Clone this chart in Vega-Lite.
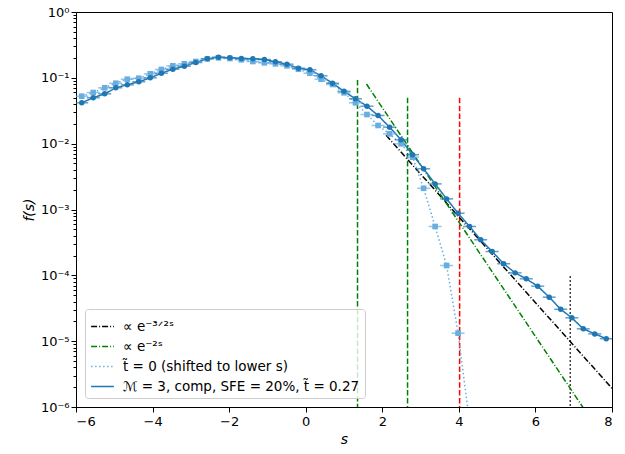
{
  "$schema": "https://vega.github.io/schema/vega-lite/v6.json",
  "autosize": {"type": "none"},
  "padding": {"left": 76, "top": 12, "right": 13, "bottom": 47},
  "width": 536,
  "height": 395,
  "config": {
    "font": "DejaVu Sans",
    "view": {"stroke": "black", "strokeWidth": 1},
    "axis": {"grid": false, "domainColor": "black", "tickColor": "black", "labelColor": "black", "titleColor": "black", "labelFontSize": 13, "titleFontSize": 14, "titleFontWeight": "normal", "tickWidth": 1},
    "legend": {"orient": "bottom-left", "offset": 9, "padding": 5, "strokeColor": "#cccccc", "fillColor": "rgba(255,255,255,0.8)", "cornerRadius": 3, "labelFontSize": 13.5, "labelLimit": 400, "symbolType": "stroke", "symbolSize": 520, "symbolStrokeWidth": 1.5, "rowPadding": 1, "labelColor": "black", "labelOffset": 8}
  },
  "datasets": {
    "curves": [
      {"series": "fit32", "s": 2.1, "f": 0.01337},
      {"series": "fit32", "s": 8.0, "f": 0.00000192},
      {"series": "fit2", "s": 1.587, "f": 0.0805},
      {"series": "fit2", "s": 7.3, "f": 0.000000877},
      {"series": "t0", "s": -5.85, "f": 0.0526},
      {"series": "t0", "s": -5.55, "f": 0.0598},
      {"series": "t0", "s": -5.25, "f": 0.0706},
      {"series": "t0", "s": -4.96, "f": 0.0828},
      {"series": "t0", "s": -4.66, "f": 0.0953},
      {"series": "t0", "s": -4.36, "f": 0.0986},
      {"series": "t0", "s": -4.06, "f": 0.1151},
      {"series": "t0", "s": -3.77, "f": 0.134},
      {"series": "t0", "s": -3.47, "f": 0.1524},
      {"series": "t0", "s": -3.17, "f": 0.1633},
      {"series": "t0", "s": -2.87, "f": 0.177},
      {"series": "t0", "s": -2.57, "f": 0.1945},
      {"series": "t0", "s": -2.28, "f": 0.2014},
      {"series": "t0", "s": -1.98, "f": 0.1968},
      {"series": "t0", "s": -1.68, "f": 0.1879},
      {"series": "t0", "s": -1.38, "f": 0.177},
      {"series": "t0", "s": -1.08, "f": 0.169},
      {"series": "t0", "s": -0.79, "f": 0.1633},
      {"series": "t0", "s": -0.49, "f": 0.1524},
      {"series": "t0", "s": -0.19, "f": 0.1352},
      {"series": "t0", "s": 0.11, "f": 0.1175},
      {"series": "t0", "s": 0.40, "f": 0.0953},
      {"series": "t0", "s": 0.70, "f": 0.0793},
      {"series": "t0", "s": 1.00, "f": 0.0593},
      {"series": "t0", "s": 1.30, "f": 0.0418},
      {"series": "t0", "s": 1.60, "f": 0.0277},
      {"series": "t0", "s": 1.89, "f": 0.0189},
      {"series": "t0", "s": 2.19, "f": 0.0141},
      {"series": "t0", "s": 2.49, "f": 0.00995},
      {"series": "t0", "s": 2.79, "f": 0.00624},
      {"series": "t0", "s": 3.08, "f": 0.0021},
      {"series": "t0", "s": 3.38, "f": 0.000552},
      {"series": "t0", "s": 3.68, "f": 0.000141},
      {"series": "t0", "s": 3.98, "f": 0.0000132},
      {"series": "t0", "s": 4.28, "f": 0.00000058},
      {"series": "m3", "s": -5.85, "f": 0.0418},
      {"series": "m3", "s": -5.55, "f": 0.0498},
      {"series": "m3", "s": -5.25, "f": 0.0571},
      {"series": "m3", "s": -4.96, "f": 0.0706},
      {"series": "m3", "s": -4.66, "f": 0.0783},
      {"series": "m3", "s": -4.36, "f": 0.0871},
      {"series": "m3", "s": -4.06, "f": 0.1},
      {"series": "m3", "s": -3.77, "f": 0.1175},
      {"series": "m3", "s": -3.47, "f": 0.1352},
      {"series": "m3", "s": -3.17, "f": 0.1503},
      {"series": "m3", "s": -2.87, "f": 0.171},
      {"series": "m3", "s": -2.57, "f": 0.1945},
      {"series": "m3", "s": -2.28, "f": 0.2061},
      {"series": "m3", "s": -1.98, "f": 0.2014},
      {"series": "m3", "s": -1.68, "f": 0.1968},
      {"series": "m3", "s": -1.38, "f": 0.1945},
      {"series": "m3", "s": -1.08, "f": 0.1897},
      {"series": "m3", "s": -0.79, "f": 0.1754},
      {"series": "m3", "s": -0.49, "f": 0.1611},
      {"series": "m3", "s": -0.19, "f": 0.14},
      {"series": "m3", "s": 0.11, "f": 0.1324},
      {"series": "m3", "s": 0.40, "f": 0.1074},
      {"series": "m3", "s": 0.70, "f": 0.0828},
      {"series": "m3", "s": 1.00, "f": 0.0624},
      {"series": "m3", "s": 1.30, "f": 0.048},
      {"series": "m3", "s": 1.60, "f": 0.0371},
      {"series": "m3", "s": 1.89, "f": 0.0268},
      {"series": "m3", "s": 2.19, "f": 0.0178},
      {"series": "m3", "s": 2.49, "f": 0.01143},
      {"series": "m3", "s": 2.79, "f": 0.00678},
      {"series": "m3", "s": 3.08, "f": 0.00415},
      {"series": "m3", "s": 3.38, "f": 0.00245},
      {"series": "m3", "s": 3.68, "f": 0.00145},
      {"series": "m3", "s": 3.98, "f": 0.000879},
      {"series": "m3", "s": 4.28, "f": 0.000552},
      {"series": "m3", "s": 4.57, "f": 0.000347},
      {"series": "m3", "s": 4.87, "f": 0.00023},
      {"series": "m3", "s": 5.17, "f": 0.00015},
      {"series": "m3", "s": 5.47, "f": 0.000109},
      {"series": "m3", "s": 5.76, "f": 0.0000885},
      {"series": "m3", "s": 6.06, "f": 0.0000684},
      {"series": "m3", "s": 6.36, "f": 0.0000466},
      {"series": "m3", "s": 6.66, "f": 0.0000305},
      {"series": "m3", "s": 6.95, "f": 0.0000226},
      {"series": "m3", "s": 7.25, "f": 0.0000154},
      {"series": "m3", "s": 7.55, "f": 0.0000129},
      {"series": "m3", "s": 7.85, "f": 0.0000109}
    ]
  },
  "layer": [
    {
      "layer": [
        {
          "data": {"values": [{"s": 1.353, "top": 0.093}, {"s": 2.66, "top": 0.0497}]},
          "mark": {"type": "rule", "color": "#008000", "strokeWidth": 1.5, "strokeDash": [5.5, 2.4], "clip": true},
          "encoding": {
            "x": {"field": "s", "type": "quantitative"},
            "y": {"field": "top", "type": "quantitative", "scale": {"type": "log", "domain": [0.000001, 1], "nice": false}},
            "y2": {"datum": 0.000001}
          }
        },
        {
          "data": {"values": [{"s": 4.02, "top": 0.0497}]},
          "mark": {"type": "rule", "color": "#ff0000", "strokeWidth": 1.5, "strokeDash": [5.5, 2.4], "clip": true},
          "encoding": {
            "x": {"field": "s", "type": "quantitative"},
            "y": {"field": "top", "type": "quantitative", "scale": {"type": "log"}},
            "y2": {"datum": 0.000001}
          }
        },
        {
          "data": {"values": [{"s": 6.91, "top": 0.0000965}]},
          "mark": {"type": "rule", "color": "black", "strokeWidth": 1.5, "strokeDash": [1.5, 2.5], "clip": true},
          "encoding": {
            "x": {"field": "s", "type": "quantitative"},
            "y": {"field": "top", "type": "quantitative", "scale": {"type": "log"}},
            "y2": {"datum": 0.000001}
          }
        },
        {
          "data": {"name": "curves"},
          "mark": {"type": "line", "strokeWidth": 1.5, "clip": true},
          "encoding": {
            "x": {"field": "s", "type": "quantitative", "scale": {"domain": [-6, 8], "nice": false, "zero": false}, "axis": {"title": "s", "titleFontStyle": "italic", "values": [-6, -4, -2, 0, 2, 4, 6, 8], "tickSize": 5, "labelPadding": 3}},
            "y": {"field": "f", "type": "quantitative", "scale": {"type": "log", "domain": [0.000001, 1], "nice": false}, "axis": {"title": "f(s)", "titleFontStyle": "italic", "values": [0.000001, 0.00001, 0.0001, 0.001, 0.01, 0.1, 1], "tickSize": 5, "labelExpr": "'10' + ['⁰','⁻¹','⁻²','⁻³','⁻⁴','⁻⁵','⁻⁶'][round(-log(datum.value)/LN10)]"}},
            "color": {"field": "series", "type": "nominal", "scale": {"domain": ["fit32", "fit2", "t0", "m3"], "range": ["black", "#008000", "#6aaee0", "#1f77b4"]}, "legend": {"title": null, "labelExpr": "datum.label == 'fit32' ? '∝ e⁻³ᐟ²ˢ' : datum.label == 'fit2' ? '∝ e⁻²ˢ' : datum.label == 't0' ? 't̃ = 0 (shifted to lower s)' : 'ℳ = 3, comp, SFE = 20%, t̃ = 0.27'"}},
            "strokeDash": {"field": "series", "type": "nominal", "scale": {"domain": ["fit32", "fit2", "t0", "m3"], "range": [[6, 2, 1, 2], [6, 2, 1, 2], [1.5, 2.5], [1, 0]]}, "legend": {"title": null, "labelExpr": "datum.label == 'fit32' ? '∝ e⁻³ᐟ²ˢ' : datum.label == 'fit2' ? '∝ e⁻²ˢ' : datum.label == 't0' ? 't̃ = 0 (shifted to lower s)' : 'ℳ = 3, comp, SFE = 20%, t̃ = 0.27'"}}
          }
        },
        {
          "data": {"name": "curves"},
          "transform": [{"filter": "datum.series == 't0'"}],
          "mark": {"type": "tick", "orient": "horizontal", "color": "#6aaee0", "size": 13, "thickness": 1.5, "clip": true},
          "encoding": {
            "x": {"field": "s", "type": "quantitative"},
            "y": {"field": "f", "type": "quantitative"}
          }
        },
        {
          "data": {"name": "curves"},
          "transform": [{"filter": "datum.series == 't0'"}],
          "mark": {"type": "point", "shape": "square", "filled": true, "color": "#6aaee0", "size": 32, "opacity": 1, "clip": true},
          "encoding": {
            "x": {"field": "s", "type": "quantitative"},
            "y": {"field": "f", "type": "quantitative"}
          }
        },
        {
          "data": {"name": "curves"},
          "transform": [{"filter": "datum.series == 'm3'"}],
          "mark": {"type": "tick", "orient": "horizontal", "color": "#1f77b4", "size": 13, "thickness": 1.5, "clip": true},
          "encoding": {
            "x": {"field": "s", "type": "quantitative"},
            "y": {"field": "f", "type": "quantitative"}
          }
        },
        {
          "data": {"name": "curves"},
          "transform": [{"filter": "datum.series == 'm3'"}],
          "mark": {"type": "point", "shape": "circle", "filled": true, "color": "#1f77b4", "size": 30, "opacity": 1, "clip": true},
          "encoding": {
            "x": {"field": "s", "type": "quantitative"},
            "y": {"field": "f", "type": "quantitative"}
          }
        }
      ]
    },
    {
      "data": {"values": [{"f": 0.5}]},
      "mark": {"type": "rule", "opacity": 0},
      "encoding": {
        "y": {"field": "f", "type": "quantitative", "scale": {"type": "log"}, "axis": {"orient": "left", "title": null, "labels": false, "domain": false, "tickSize": 3, "values": [0.000002, 0.000003, 0.000004, 0.000005, 0.000006, 0.000007, 0.000008, 0.000009, 0.00002, 0.00003, 0.00004, 0.00005, 0.00006, 0.00007, 0.00008, 0.00009, 0.0002, 0.0003, 0.0004, 0.0005, 0.0006, 0.0007, 0.0008, 0.0009, 0.002, 0.003, 0.004, 0.005, 0.006, 0.007, 0.008, 0.009, 0.02, 0.03, 0.04, 0.05, 0.06, 0.07, 0.08, 0.09, 0.2, 0.3, 0.4, 0.5, 0.6, 0.7, 0.8, 0.9]}}
      }
    }
  ],
  "resolve": {"axis": {"y": "independent"}}
}
